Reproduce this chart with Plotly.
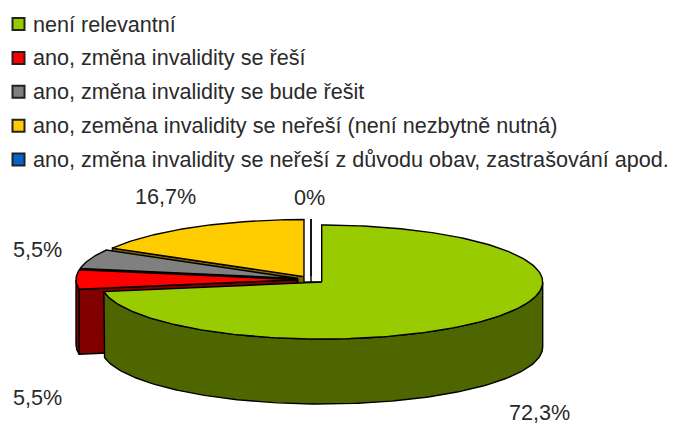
import math
import plotly.graph_objects as go

categories = ["není relevantní", "ano, změna invalidity se řeší", "ano, změna invalidity se bude řešit",
              "ano, zeměna invalidity se neřeší (není nezbytně nutná)",
              "ano, změna invalidity se neřeší z důvodu obav, zastrašování apod."]
values = [72.3, 5.5, 5.5, 16.7, 0.0]
value_labels = ["72,3%", "5,5%", "5,5%", "16,7%", "0%"]
colors = ["#99CC00", "#FF0000", "#808080", "#FFCC00", "#0066CC"]
wall_colors = ["#4D6600", "#800000", "#404040", "#806600", "#003366"]

# pie projection
CX, CY, RX, RY, DEPTH, EXPLODE = 311, 279.7, 221, 57, 65, 14
START_DEG = 0
label_pos = [(539, 412), (37, 397), (37, 249), (165, 196), (309, 197)]
LEG_X, LEG_Y0, LEG_DY = 18.5, 24, 33.9
FONT = dict(family="Liberation Sans", size=21.6, color="#2a2a2a")


def pt(theta, ax, ay, dz=0):
    t = math.radians(theta)
    return ax + RX * math.sin(t), ay - RY * math.cos(t) + dz


def arc(t0, t1, ax, ay, dz=0):
    n = max(2, int(abs(t1 - t0)) + 2)
    return [pt(t0 + (t1 - t0) * i / (n - 1), ax, ay, dz) for i in range(n)]


def poly(points, color, name):
    return go.Scatter(x=[p[0] for p in points], y=[p[1] for p in points], mode="lines", fill="toself",
                      fillcolor=color, line=dict(color="#000000", width=1.4), name=name,
                      hoverinfo="name", showlegend=False)


total = sum(values)
spans = []
a = START_DEG
for v in values:
    b = a + v / total * 360
    spans.append((a, b))
    a = b

apexes = []
for (t0, t1) in spans:
    m = math.radians((t0 + t1) / 2)
    apexes.append((CX + EXPLODE * math.sin(m), CY - EXPLODE * RY / RX * math.cos(m)))

fig = go.Figure()
# back to front: 0 % slice, yellow, grey, red, green
for i in [4, 3, 2, 1, 0]:
    t0, t1 = spans[i]
    ax, ay = apexes[i]
    # leading cut face
    p = pt(t0, ax, ay)
    fig.add_trace(poly([(ax, ay), p, (p[0], p[1] + DEPTH), (ax, ay + DEPTH), (ax, ay)], wall_colors[i], categories[i]))
    # visible outer wall (front half of the rim)
    w0, w1 = max(t0, 90), min(t1, 270)
    if w1 > w0:
        pts = arc(w0, w1, ax, ay) + arc(w1, w0, ax, ay, DEPTH)
        fig.add_trace(poly(pts + [pts[0]], wall_colors[i], categories[i]))
    top = [(ax, ay)] + arc(t0, t1, ax, ay) + [(ax, ay)]
    fig.add_trace(poly(top, colors[i], categories[i]))

# floor line between the 0 % slice and the green apex
fig.add_trace(go.Scatter(x=[apexes[3][0], apexes[0][0]], y=[apexes[0][1], apexes[0][1]], mode="lines",
                         line=dict(color="#000000", width=1.4), hoverinfo="skip", showlegend=False))

# legend swatches
fig.add_trace(go.Scatter(x=[LEG_X] * len(categories), y=[LEG_Y0 + LEG_DY * i for i in range(len(categories))],
                         mode="markers", marker=dict(symbol="square", size=12, color=colors,
                                                     line=dict(color="#222222", width=2)),
                         text=categories, hoverinfo="text", showlegend=False))

annotations = []
for i, c in enumerate(categories):
    annotations.append(dict(x=31, y=LEG_Y0 + LEG_DY * i, text=c, xanchor="left", yanchor="middle", showarrow=False,
                            font=FONT, xref="x", yref="y"))
for t, (x, y) in zip(value_labels, label_pos):
    annotations.append(dict(x=x, y=y, text=t, xanchor="center", yanchor="middle", showarrow=False,
                            font=FONT, xref="x", yref="y"))

fig.update_layout(width=678, height=425, autosize=False, margin=dict(l=0, r=0, t=0, b=0),
                  paper_bgcolor="white", plot_bgcolor="white", showlegend=False, annotations=annotations,
                  xaxis=dict(range=[0, 678], visible=False, fixedrange=True),
                  yaxis=dict(range=[425, 0], visible=False, fixedrange=True))
fig.write_html("out.html", config={"displayModeBar": False},
               post_script="document.body.style.margin='0';document.body.style.overflow='hidden';")
